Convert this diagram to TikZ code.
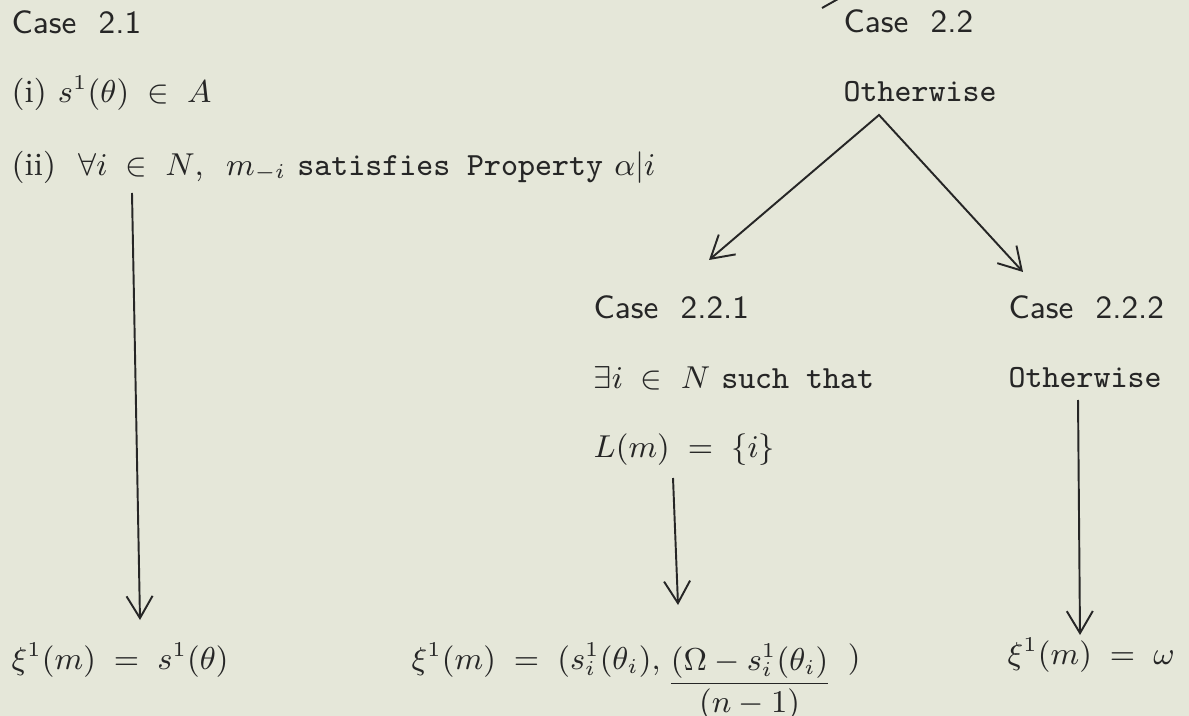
\documentclass[tikz,border=0pt]{standalone}
\usepackage{amsmath,amssymb}
\usepackage{tikz}
\usetikzlibrary{arrows.meta,calc,positioning}
\definecolor{paper}{HTML}{E5E7D9}
\definecolor{ink}{HTML}{262626}
\tikzset{
  txt/.style={anchor=west,inner sep=0pt,text=ink,font=\fontsize{9.2}{11}\selectfont},
  casehd/.style={txt,font=\fontsize{9.2}{11}\selectfont\sffamily},
  link/.style={draw=ink,line width=0.55pt},
}

\begin{document}
\begin{tikzpicture}[x=0.01cm,y=-0.01cm,>={Straight Barb[length=2.2mm,width=2.6mm]}]
\fill[paper] (0,0) rectangle (1189,716);
\useasboundingbox (0,0) rectangle (1189,716);
% Case 2.1, left column
\node[casehd] (c21) at (11,22) {Case\ \ 2.1};
\node[txt] (ci) at (11,93) {(i)\ $s^1(\theta)\;\in\;A$};
\node[txt] (cii) at (11,167) {(ii)\ \ $\forall i\;\in\;N$,\ \ $m_{-i}$\ \texttt{satisfies Property} $\alpha|i$};
\node[txt] (r21) at (11,660) {$\xi^1(m)\;=\;s^1(\theta)$};
\coordinate (a21) at (132,193);
\coordinate (b21) at (140,620);
\draw[link,->] (a21) -- (b21);
% Case 2.2, right part
\node[casehd] (c22) at (843,21) {Case\ \ 2.2};
\node[txt] (o22) at (843,92) {\texttt{Otherwise}};
\coordinate (cut) at (838,-1);
\coordinate (cutend) at (822,8);
\draw[link] (cut) -- (cutend);
\coordinate (apex) at (879,115);
\coordinate (tipL) at (709,260);
\coordinate (tipR) at (1023,272);
\draw[link,<->] (tipL) -- (apex) -- (tipR);
% Case 2.2.1
\node[casehd] (c221) at (593,307) {Case\ \ 2.2.1};
\node[txt] (e221) at (593,378) {$\exists i\;\in\;N$\ \texttt{such that}};
\node[txt] (l221) at (593,450) {$L(m)\;=\;\{i\}$};
\node[txt] (r221) at (411,660) {$\xi^1(m)\;=\;(s^1_i(\theta_i),$};
\node[txt] (f221) at (666,682) {$\dfrac{(\Omega - s^1_i(\theta_i)}{(n - 1)}$};
\node[txt] (p221) at ($(f221.east |- r221.west)+(14,0)$) {$)$};
\coordinate (a221) at (673,478);
\coordinate (b221) at (678,605);
\draw[link,->] (a221) -- (b221);
% Case 2.2.2
\node[casehd] (c222) at (1008,307) {Case\ \ 2.2.2};
\node[txt] (o222) at (1008,378) {\texttt{Otherwise}};
\node[txt] (r222) at (1007,655) {$\xi^1(m)\;=\;\omega$};
\coordinate (a222) at (1078,400);
\coordinate (b222) at (1080,635);
\draw[link,->] (a222) -- (b222);
\end{tikzpicture}
\end{document}
